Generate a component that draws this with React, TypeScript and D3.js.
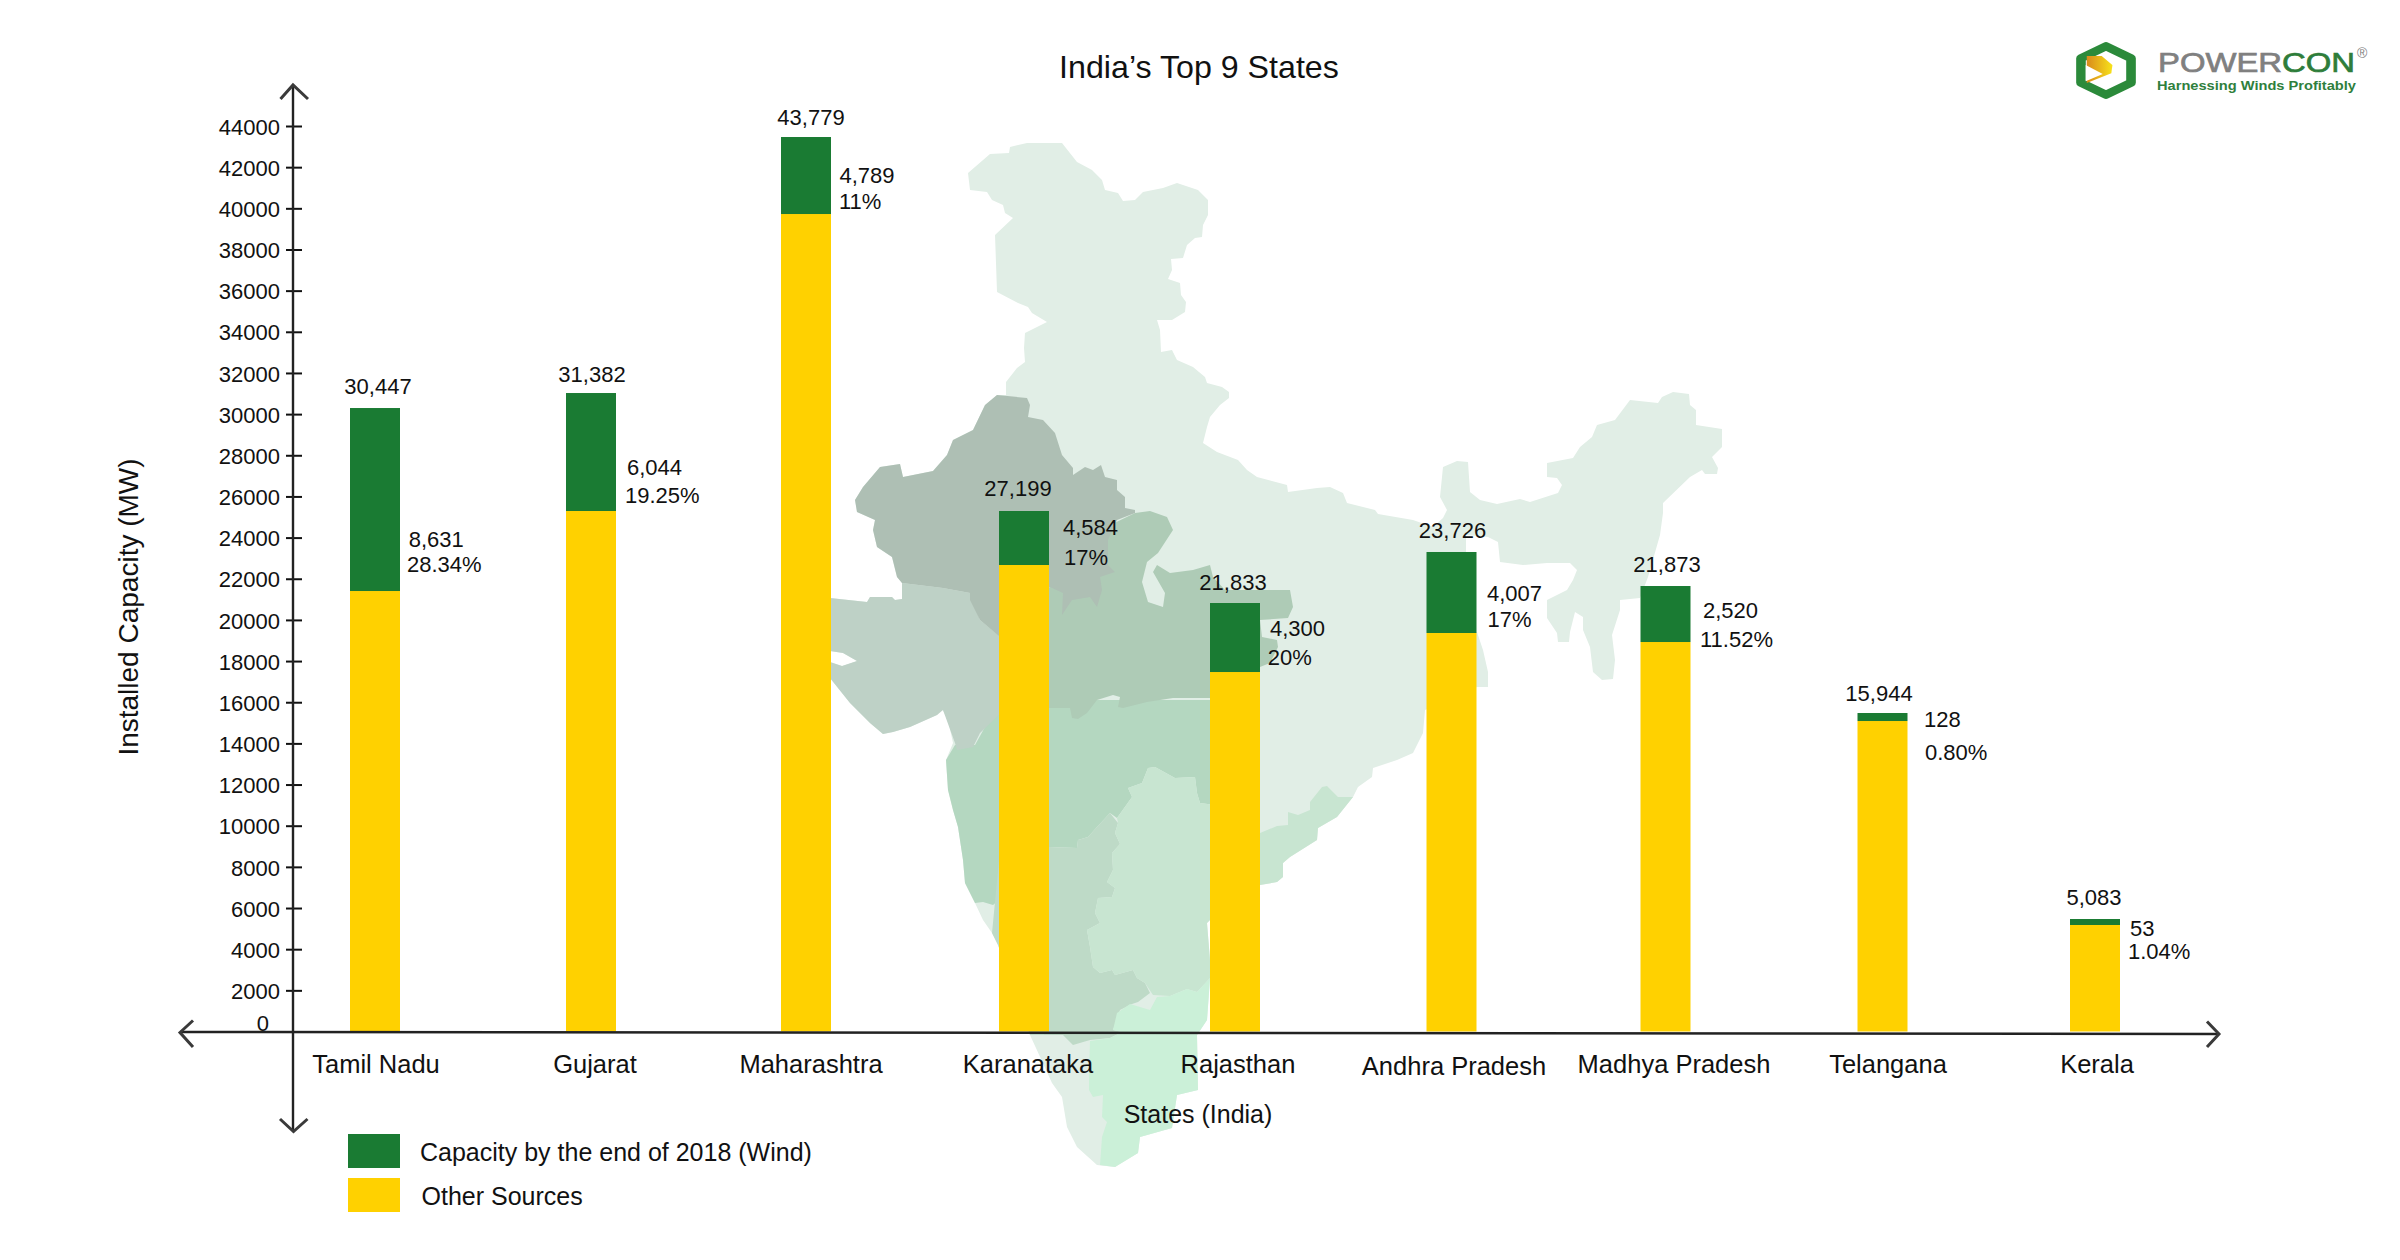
import { useEffect, useRef } from 'react';
import * as d3 from 'd3';

type Pt = [number, number];

const states = ['Tamil Nadu', 'Gujarat', 'Maharashtra', 'Karanataka', 'Rajasthan', 'Andhra Pradesh', 'Madhya Pradesh', 'Telangana', 'Kerala'];
// bar heights as they stand on the picture (the printed figures don't quite agree with them)
const otherSources = [21404, 25292, 39723, 22668, 17468, 19364, 18926, 15087, 5175];
const windCapacity = [8892, 5733, 3742, 2624, 3353, 3936, 2721, 389, 291];
const totalLabels = ['30,447', '31,382', '43,779', '27,199', '21,833', '23,726', '21,873', '15,944', '5,083'];
const windLabels = ['8,631', '6,044', '4,789', '4,584', '4,300', '4,007', '2,520', '128', '53'];
const shareLabels = ['28.34%', '19.25%', '11%', '17%', '20%', '17%', '11.52%', '0.80%', '1.04%'];
const yTicks = d3.range(2000, 44001, 2000);
const legendItems = ['Capacity by the end of 2018 (Wind)', 'Other Sources'];

// hand placement, the source chart isn't evenly spaced
const barNudge = [0, 1, 1, 4, 0, 1.5, 0.5, 2.5, 0];
const catDx = [1, 5, 6, 8, 3, 4, 9, 8, 2];
const catDy = [0, 0, 0, 0, 0, 2, 0, 0, 0];
const totalDx = [3, 2, 6, -2, -2, 2.5, 2, -1, -1];
const totalDy = [-14, -11, -12, -15, -13, -14, -14, -12.5, -14.5];
const windDx = [33.7, 37, 34.5, 43, 35, 37, 38, 44, 35];
const windDy = [138.7, 82, 46, 24, 33, 48.7, 31.7, 14, 17];
const shareDx = [32, 35, 34, 44, 32.7, 37.5, 35, 45, 33];
const shareDy = [163.7, 110, 71.6, 54, 62, 74.7, 60.7, 46.5, 40];

// backdrop map, traced in page pixels
const karnatakaEast: Pt[] = [[1118, 823], [1115, 833], [1120, 844], [1112, 853], [1113, 870], [1107, 882], [1115, 888], [1112, 897], [1098, 898], [1095, 913], [1100, 923], [1087, 930], [1090, 947], [1093, 967], [1100, 973], [1112, 970], [1115, 975], [1133, 970], [1137, 978], [1145, 983]];
const indiaOutline: Pt[] = [
  [968, 173], [990, 154], [1009, 153], [1010, 147], [1027, 143], [1043, 143], [1062, 143], [1077, 162], [1092, 170], [1102, 180], [1105, 190], [1118, 193], [1123, 201], [1135, 200], [1143, 192], [1163, 188], [1177, 183], [1198, 190], [1208, 200], [1208, 215], [1203, 225], [1202, 237], [1195, 238], [1187, 245], [1183, 258], [1171, 259], [1172, 270], [1168, 279], [1180, 283], [1181, 295], [1186, 302], [1185, 312], [1172, 320], [1157, 320], [1160, 330], [1161, 352], [1172, 350], [1177, 360], [1193, 367], [1205, 377], [1207, 383], [1222, 387], [1229, 392], [1229, 398], [1220, 405], [1210, 417], [1207, 427], [1203, 443], [1217, 452], [1238, 460], [1247, 470], [1257, 477], [1287, 485], [1288, 492], [1317, 488], [1330, 487], [1343, 493], [1347, 503], [1375, 510], [1378, 514], [1413, 520], [1433, 527], [1443, 518], [1447, 510], [1440, 497], [1443, 467], [1457, 461], [1468, 462], [1470, 492], [1480, 500], [1497, 504], [1520, 499], [1530, 502], [1558, 493], [1562, 485], [1557, 478], [1547, 477], [1547, 463], [1573, 458], [1580, 447], [1592, 437], [1597, 425], [1615, 420], [1630, 400], [1658, 403], [1662, 397], [1673, 392], [1689, 394], [1690, 405], [1696, 410], [1696, 425], [1722, 429], [1722, 447], [1712, 457], [1718, 468], [1717, 474], [1705, 474], [1702, 470], [1690, 477], [1663, 503], [1663, 513], [1660, 535], [1648, 577], [1640, 598], [1620, 600], [1620, 610], [1612, 635], [1615, 660], [1613, 679], [1602, 680], [1593, 672], [1590, 647], [1583, 630], [1583, 617], [1575, 612], [1570, 632], [1569, 642], [1558, 642], [1557, 633], [1547, 618], [1547, 600], [1567, 590], [1573, 580], [1577, 570], [1570, 563], [1547, 563], [1523, 565], [1500, 562], [1498, 542], [1488, 537], [1466, 535], [1466, 640], [1477, 632], [1483, 650], [1488, 672], [1488, 687], [1477, 687], [1425, 710], [1423, 733], [1413, 753], [1397, 760], [1373, 768], [1372, 777], [1358, 787], [1353, 797], [1337, 817], [1318, 828], [1317, 840], [1290, 857], [1283, 863], [1283, 877], [1277, 882], [1260, 885], [1210, 920], [1207, 923], [1210, 960], [1210, 980], [1207, 1020], [1197, 1035], [1198, 1090], [1177, 1095], [1172, 1128], [1140, 1137], [1138, 1153], [1115, 1167], [1097, 1165], [1077, 1147], [1067, 1127], [1062, 1097], [1052, 1083], [1030, 1035], [998, 945], [992, 933], [983, 920], [975, 903], [965, 883], [963, 860], [958, 827], [953, 810], [948, 790], [946, 760], [953, 743], [948, 720], [942, 709], [937, 715], [910, 727], [893, 732], [883, 734], [870, 723], [850, 703], [830, 678], [830, 662], [842, 666], [857, 661], [843, 653], [830, 651], [830, 598], [867, 602], [870, 597], [892, 597], [895, 600], [902, 599], [902, 583], [897, 577], [892, 557], [877, 547], [873, 530], [875, 520], [857, 512], [855, 500], [863, 487], [880, 467], [900, 464], [903, 477], [933, 471], [947, 455], [953, 440], [973, 430], [985, 405], [997, 395], [1006, 395], [1006, 382], [1017, 368], [1025, 362], [1024, 348], [1025, 333], [1047, 322], [1032, 313], [1028, 307], [1018, 303], [997, 292], [996, 263], [995, 235], [1013, 218], [1005, 213], [1003, 205], [992, 200], [987, 192], [970, 190],
];
const maharashtra: Pt[] = [[955, 745], [946, 760], [948, 790], [953, 810], [958, 827], [963, 860], [965, 883], [975, 903], [983, 902], [993, 905], [999, 900], [1049, 847], [1077, 848], [1078, 840], [1088, 837], [1097, 827], [1110, 813], [1117, 818], [1132, 797], [1128, 788], [1142, 783], [1148, 768], [1155, 767], [1175, 778], [1195, 777], [1197, 793], [1200, 803], [1215, 805], [1220, 700], [1000, 700], [975, 745]];
const madhyaPradesh: Pt[] = [[1135, 513], [1150, 511], [1167, 517], [1173, 530], [1158, 553], [1147, 562], [1142, 582], [1148, 602], [1163, 607], [1165, 593], [1153, 572], [1157, 565], [1170, 573], [1193, 570], [1210, 565], [1213, 577], [1225, 590], [1260, 590], [1290, 590], [1293, 607], [1288, 618], [1260, 620], [1262, 637], [1277, 640], [1278, 647], [1270, 663], [1260, 667], [1230, 690], [1210, 698], [1173, 698], [1147, 702], [1123, 708], [1118, 707], [1120, 697], [1113, 695], [1097, 700], [1087, 713], [1078, 719], [1072, 718], [1070, 708], [1000, 708], [1000, 637], [1050, 587], [1100, 530]];
const gujarat: Pt[] = [[830, 678], [830, 662], [842, 666], [857, 661], [843, 653], [830, 651], [830, 598], [867, 602], [870, 597], [892, 597], [895, 600], [902, 599], [902, 583], [943, 588], [970, 593], [980, 620], [1004, 640], [1004, 710], [980, 733], [973, 747], [957, 750], [955, 743], [943, 710], [937, 715], [910, 727], [893, 732], [883, 734], [870, 723], [850, 703]];
const rajasthan: Pt[] = [[902, 583], [897, 577], [892, 557], [877, 547], [873, 530], [875, 520], [857, 512], [855, 500], [863, 487], [880, 467], [900, 464], [903, 477], [933, 471], [947, 455], [953, 440], [973, 430], [985, 405], [997, 395], [1027, 398], [1030, 405], [1028, 417], [1043, 420], [1055, 433], [1062, 455], [1073, 468], [1073, 475], [1085, 467], [1093, 470], [1101, 465], [1105, 477], [1117, 480], [1117, 490], [1125, 497], [1125, 508], [1135, 510], [1135, 513], [1117, 520], [1108, 540], [1108, 565], [1115, 572], [1100, 577], [1102, 590], [1097, 607], [1090, 597], [1072, 600], [1062, 615], [1063, 593], [1050, 587], [1000, 637], [980, 620], [970, 600], [970, 593], [943, 588]];
const karnataka: Pt[] = [[992, 933], [998, 945], [1030, 1035], [1063, 1035], [1073, 1045], [1090, 1040], [1110, 1038], [1122, 1032], [1113, 1030], [1120, 1010], [1132, 1004], [1138, 1002], [1150, 993], [1145, 983], ...[...karnatakaEast].reverse(), [1110, 813], [1097, 827], [1088, 837], [1078, 840], [1077, 848], [1049, 847], [1000, 850]];
const andhraPradesh: Pt[] = [[1148, 768], [1155, 767], [1175, 778], [1195, 777], [1197, 793], [1200, 803], [1215, 805], [1260, 833], [1277, 826], [1288, 825], [1288, 812], [1298, 815], [1310, 810], [1310, 802], [1322, 787], [1327, 786], [1338, 797], [1353, 797], [1337, 817], [1318, 828], [1317, 840], [1290, 857], [1283, 863], [1283, 877], [1277, 882], [1260, 885], [1210, 920], [1207, 923], [1210, 960], [1210, 978], [1197, 992], [1187, 989], [1170, 996], [1153, 995], [1145, 983], ...[...karnatakaEast].reverse(), [1117, 818], [1132, 797], [1128, 788], [1142, 783]];
const tamilNadu: Pt[] = [[1210, 978], [1197, 992], [1187, 989], [1170, 996], [1157, 997], [1150, 1010], [1130, 1004], [1117, 1013], [1113, 1030], [1122, 1032], [1110, 1038], [1090, 1041], [1089, 1073], [1089, 1090], [1093, 1097], [1103, 1095], [1102, 1117], [1107, 1122], [1102, 1137], [1100, 1165], [1115, 1167], [1138, 1153], [1140, 1137], [1172, 1128], [1177, 1095], [1198, 1090], [1197, 1035], [1207, 1020]];
const mapLayers: [Pt[], string][] = [
  [indiaOutline, '#e1eee6'],
  [maharashtra, '#b4d7c0'],
  [madhyaPradesh, '#aecbb6'],
  [gujarat, '#bed1c6'],
  [rajasthan, '#aebfb4'],
  [karnataka, '#bedac7'],
  [andhraPradesh, '#c8e5d1'],
  [tamilNadu, '#cbf0d8'],
];

const GREEN = '#1a7b33';
const YELLOW = '#ffd100';
const FONT = '"Liberation Sans", Arial, sans-serif';

const App = () => {
  const svgRef = useRef<SVGSVGElement>(null);

  useEffect(() => {
    if (!svgRef.current) return;
    const svg = d3.select(svgRef.current);
    svg.selectAll('*').remove();
    svg.attr('font-family', FONT);

    const y = d3.scaleLinear().domain([0, 44000]).range([1031.5, 126]);
    const x = d3.scaleBand().domain(states).range([350, 2120]).paddingInner(165 / 215);
    const bw = x.bandwidth();

    // map goes underneath everything
    const line = d3.line().curve(d3.curveLinearClosed);
    svg.append('g').selectAll('path').data(mapLayers).join('path')
      .attr('d', (d) => line(d[0]))
      .attr('fill', (d) => d[1]);

    // stacked bars
    const rows = states.map((s, i) => ({ state: s, other: otherSources[i], wind: windCapacity[i] }));
    const series = d3.stack<any>().keys(['other', 'wind'])(rows);
    svg.append('g').selectAll('g').data(series).join('g')
      .attr('fill', (d) => (d.key === 'wind' ? GREEN : YELLOW))
      .selectAll('rect').data((d) => d).join('rect')
      .attr('x', (d) => x(d.data.state)! + barNudge[states.indexOf(d.data.state)])
      .attr('y', (d) => y(d[1]))
      .attr('width', bw)
      .attr('height', (d) => y(d[0]) - y(d[1]));

    // axes
    const yAxis = svg.append('g').attr('transform', 'translate(293,0)')
      .call(d3.axisLeft(y).tickValues(yTicks).tickFormat(d3.format('d') as any).tickSizeOuter(0));
    yAxis.select('.domain').remove();
    yAxis.selectAll('.tick line').attr('x1', 9).attr('x2', -7).attr('stroke', '#111').attr('stroke-width', 2);
    yAxis.selectAll('.tick text').attr('x', -13).attr('dy', '0.37em').attr('font-size', 22).attr('font-family', FONT).attr('fill', '#111');

    const xAxis = svg.append('g').attr('transform', 'translate(0,1032)')
      .call(d3.axisBottom(x).tickSize(0));
    xAxis.select('.domain').remove();
    xAxis.selectAll<SVGTextElement, string>('.tick text')
      .attr('x', (d) => catDx[states.indexOf(d)])
      .attr('y', (d) => 41 + catDy[states.indexOf(d)])
      .attr('dy', 0)
      .attr('font-size', 25.5)
      .attr('font-family', FONT)
      .attr('fill', '#111');

    const axisLines = svg.append('g').attr('fill', 'none').attr('stroke', '#222').attr('stroke-width', 2.4);
    axisLines.append('line').attr('x1', 180).attr('y1', 1032).attr('x2', 2219).attr('y2', 1034);
    axisLines.append('line').attr('x1', 293).attr('y1', 85).attr('x2', 293).attr('y2', 1131);
    const heads: Pt[][] = [
      [[280.5, 99], [293, 85], [308, 99]],
      [[280, 1119], [293.5, 1131.5], [307.5, 1119]],
      [[193, 1020.5], [180, 1032.5], [193, 1047]],
      [[2207, 1021.5], [2219, 1034], [2207, 1047]],
    ];
    axisLines.selectAll('path').data(heads).join('path')
      .attr('d', (d) => d3.line()(d))
      .attr('stroke', '#3a3a3a')
      .attr('stroke-width', 3);

    // the 0 sits on its own, no tick for it
    svg.append('text').attr('x', 269).attr('y', 1031).attr('text-anchor', 'end').attr('font-size', 22).attr('fill', '#111').text('0');

    // value labels
    const labels = svg.append('g').attr('font-size', 22).attr('fill', '#111');
    const centre = (s: string) => x(s)! + bw / 2;
    const top = (i: number) => y(otherSources[i] + windCapacity[i]);
    labels.append('g').selectAll('text').data(states).join('text')
      .attr('text-anchor', 'middle')
      .attr('x', (s, i) => centre(s) + totalDx[i])
      .attr('y', (_, i) => top(i) + totalDy[i])
      .text((_, i) => totalLabels[i]);
    labels.append('g').selectAll('text').data(states).join('text')
      .attr('x', (s, i) => centre(s) + windDx[i])
      .attr('y', (_, i) => top(i) + windDy[i])
      .text((_, i) => windLabels[i]);
    labels.append('g').selectAll('text').data(states).join('text')
      .attr('x', (s, i) => centre(s) + shareDx[i])
      .attr('y', (_, i) => top(i) + shareDy[i])
      .text((_, i) => shareLabels[i]);

    // titles
    svg.append('text').attr('x', 1205).attr('y', 78).attr('dx', -6).attr('text-anchor', 'middle').attr('font-size', 32.2).attr('fill', '#111').text('India’s Top 9 States');
    svg.append('text').attr('x', 1198).attr('y', 1123).attr('text-anchor', 'middle').attr('font-size', 25).attr('fill', '#111').text('States (India)');
    svg.append('text').attr('transform', 'translate(138,607) rotate(-90)').attr('text-anchor', 'middle').attr('font-size', 28).attr('fill', '#111').text('Installed Capacity (MW)');

    // legend
    const legend = svg.append('g').selectAll('g').data(legendItems).join('g')
      .attr('transform', (_, i) => `translate(348,${1134 + i * 44})`);
    legend.append('rect').attr('width', 52).attr('height', 34).attr('fill', (_, i) => (i === 0 ? GREEN : YELLOW));
    legend.append('text').attr('x', (_, i) => (i === 0 ? 72 : 73.5)).attr('y', 27).attr('font-size', 25).attr('fill', '#111').text((d) => d);

    // logo, top right
    const defs = svg.append('defs');
    const grad = defs.append('linearGradient').attr('id', 'logoGold');
    grad.append('stop').attr('offset', '0%').attr('stop-color', '#d98a1c');
    grad.append('stop').attr('offset', '100%').attr('stop-color', '#f7e21a');
    const logo = svg.append('g').attr('transform', 'translate(2106,70.5) scale(1.07,0.9)');
    const hex = d3.range(6).map((i) => {
      const a = Math.PI / 3 * i - Math.PI / 2;
      return [Math.cos(a), Math.sin(a)] as Pt;
    });
    const hexAt = (r: number) => d3.line().curve(d3.curveLinearClosed)(hex.map(([a, b]) => [a * r, b * r] as Pt));
    logo.append('path').attr('d', hexAt(27)).attr('fill', '#fff').attr('stroke', '#2b8a3a').attr('stroke-width', 9).attr('stroke-linejoin', 'round');
    logo.append('path').attr('d', 'M-18,-16 L-4,-16 L6,-6 L5,3 L-18,14 Z').attr('fill', 'url(#logoGold)');
    logo.append('path').attr('d', 'M-19,-6 L-3,4 L-19,12 Z').attr('fill', '#fff');

    const brand = svg.append('g').attr('stroke-width', 0.7);
    brand.append('text').attr('x', 2158).attr('y', 72).attr('font-size', 28).attr('fill', '#808080').attr('stroke', '#808080')
      .attr('textLength', 124).attr('lengthAdjust', 'spacingAndGlyphs').text('POWER');
    brand.append('text').attr('x', 2282).attr('y', 72).attr('font-size', 28).attr('fill', '#2e7d3a').attr('stroke', '#2e7d3a')
      .attr('textLength', 73).attr('lengthAdjust', 'spacingAndGlyphs').text('CON');
    brand.append('text').attr('x', 2357).attr('y', 58).attr('font-size', 14).attr('fill', '#808080').text('®');
    brand.append('text').attr('x', 2157).attr('y', 90).attr('font-size', 12).attr('font-weight', 'bold').attr('fill', '#2f7f3d')
      .attr('textLength', 199).attr('lengthAdjust', 'spacingAndGlyphs').text('Harnessing Winds Profitably');
  }, []);

  return <svg ref={svgRef} width={2400} height={1260} style={{ position: 'absolute', left: 0, top: 0, background: '#fff' }} />;
};

export default App;
